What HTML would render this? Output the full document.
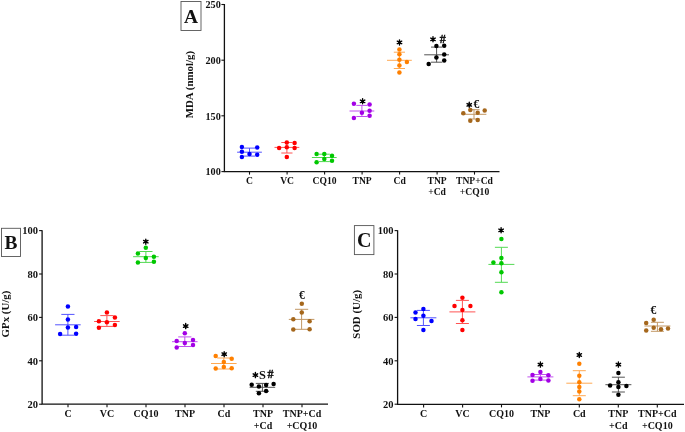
<!DOCTYPE html>
<html><head><meta charset="utf-8"><style>
html,body{margin:0;padding:0;background:#fff;}
body{width:685px;height:432px;overflow:hidden;}
svg{display:block;will-change:transform;}
text{font-family:"Liberation Serif", serif;font-weight:bold;fill:#111;}
.t{font-size:10px;}
.tA{font-size:9.6px;}
.tY{font-size:10.5px;}
.tYA{font-size:10.2px;}
.yl{font-size:10.9px;}
.L{font-size:20px;}
.LA{font-size:19.4px;}
.ast{font-size:12px;}
.sym{font-size:12px;stroke:#000;stroke-width:0.35;}
.eu{font-size:13.2px;}
.dol{font-size:12.4px;}
</style></head><body>
<svg width="685" height="432" viewBox="0 0 685 432">
<path d="M224.4 4V171.6H499.5" fill="none" stroke="#111" stroke-width="1.3"/>
<line x1="221.4" y1="4.5" x2="224.4" y2="4.5" stroke="#111" stroke-width="1.1"/>
<text x="220.8" y="8.3" text-anchor="end" class="tYA">250</text>
<line x1="221.4" y1="60.2" x2="224.4" y2="60.2" stroke="#111" stroke-width="1.1"/>
<text x="220.8" y="64" text-anchor="end" class="tYA">200</text>
<line x1="221.4" y1="115.8" x2="224.4" y2="115.8" stroke="#111" stroke-width="1.1"/>
<text x="220.8" y="119.6" text-anchor="end" class="tYA">150</text>
<line x1="221.4" y1="171.6" x2="224.4" y2="171.6" stroke="#111" stroke-width="1.1"/>
<text x="220.8" y="175.4" text-anchor="end" class="tYA">100</text>
<line x1="249.5" y1="171.6" x2="249.5" y2="174.6" stroke="#111" stroke-width="1.1"/>
<text x="249.5" y="184.2" text-anchor="middle" class="tA">C</text>
<line x1="287.1" y1="171.6" x2="287.1" y2="174.6" stroke="#111" stroke-width="1.1"/>
<text x="287.1" y="184.2" text-anchor="middle" class="tA">VC</text>
<line x1="324.6" y1="171.6" x2="324.6" y2="174.6" stroke="#111" stroke-width="1.1"/>
<text x="324.6" y="184.2" text-anchor="middle" class="tA">CQ10</text>
<line x1="362.1" y1="171.6" x2="362.1" y2="174.6" stroke="#111" stroke-width="1.1"/>
<text x="362.1" y="184.2" text-anchor="middle" class="tA">TNP</text>
<line x1="399.6" y1="171.6" x2="399.6" y2="174.6" stroke="#111" stroke-width="1.1"/>
<text x="399.6" y="184.2" text-anchor="middle" class="tA">Cd</text>
<line x1="437.1" y1="171.6" x2="437.1" y2="174.6" stroke="#111" stroke-width="1.1"/>
<text x="437.1" y="184.2" text-anchor="middle" class="tA">TNP</text>
<text x="437.1" y="195.4" text-anchor="middle" class="tA">+Cd</text>
<line x1="474.5" y1="171.6" x2="474.5" y2="174.6" stroke="#111" stroke-width="1.1"/>
<text x="474.5" y="184.2" text-anchor="middle" class="tA">TNP+Cd</text>
<text x="474.5" y="195.4" text-anchor="middle" class="tA">+CQ10</text>
<text transform="translate(193 84.6) rotate(-90)" text-anchor="middle" class="yl">MDA (nmol/g)</text>
<rect x="181" y="1.5" width="20" height="29" fill="#fff" stroke="#555" stroke-width="0.9"/>
<text x="191" y="22.6" text-anchor="middle" class="LA">A</text>
<g stroke="#0000FF" stroke-width="1.0" opacity="0.68" fill="none">
<line x1="237.1" y1="152.2" x2="261.9" y2="152.2"/>
<line x1="243.9" y1="148.1" x2="255.1" y2="148.1"/>
<line x1="243.9" y1="156.1" x2="255.1" y2="156.1"/>
<line x1="249.5" y1="148.1" x2="249.5" y2="156.1"/>
</g>
<g fill="#0000FF">
<circle cx="241.9" cy="147.1" r="2.25"/>
<circle cx="241.9" cy="151.7" r="2.25"/>
<circle cx="241.9" cy="157.1" r="2.25"/>
<circle cx="249.5" cy="154" r="2.25"/>
<circle cx="257.2" cy="147.6" r="2.25"/>
<circle cx="257.2" cy="154.8" r="2.25"/>
</g>
<g stroke="#FF0000" stroke-width="1.0" opacity="0.68" fill="none">
<line x1="274.5" y1="147.4" x2="299.3" y2="147.4"/>
<line x1="281.3" y1="142.5" x2="292.5" y2="142.5"/>
<line x1="281.3" y1="153" x2="292.5" y2="153"/>
<line x1="286.9" y1="142.5" x2="286.9" y2="153"/>
</g>
<g fill="#FF0000">
<circle cx="279.1" cy="147.9" r="2.25"/>
<circle cx="286.8" cy="142.6" r="2.25"/>
<circle cx="286.8" cy="147.2" r="2.25"/>
<circle cx="286.8" cy="157.1" r="2.25"/>
<circle cx="294.6" cy="143.1" r="2.25"/>
<circle cx="294.6" cy="147.9" r="2.25"/>
</g>
<g stroke="#00C800" stroke-width="1.0" opacity="0.68" fill="none">
<line x1="311.9" y1="157.5" x2="336.7" y2="157.5"/>
<line x1="318.7" y1="154.2" x2="329.9" y2="154.2"/>
<line x1="318.7" y1="161.6" x2="329.9" y2="161.6"/>
<line x1="324.3" y1="154.2" x2="324.3" y2="161.6"/>
</g>
<g fill="#00C800">
<circle cx="316.6" cy="154.1" r="2.25"/>
<circle cx="316.6" cy="162.3" r="2.25"/>
<circle cx="324.3" cy="153.9" r="2.25"/>
<circle cx="324.3" cy="159" r="2.25"/>
<circle cx="332" cy="155.8" r="2.25"/>
<circle cx="332" cy="160.8" r="2.25"/>
</g>
<g stroke="#A300E6" stroke-width="1.0" opacity="0.68" fill="none">
<line x1="349.5" y1="111" x2="374.3" y2="111"/>
<line x1="356.3" y1="105.4" x2="367.5" y2="105.4"/>
<line x1="356.3" y1="116.5" x2="367.5" y2="116.5"/>
<line x1="361.9" y1="105.4" x2="361.9" y2="116.5"/>
</g>
<g fill="#A300E6">
<circle cx="353.9" cy="103.7" r="2.25"/>
<circle cx="353.9" cy="117.9" r="2.25"/>
<circle cx="361.9" cy="112.7" r="2.25"/>
<circle cx="369.6" cy="104.6" r="2.25"/>
<circle cx="369.6" cy="110.8" r="2.25"/>
<circle cx="369.6" cy="115.7" r="2.25"/>
</g>
<path d="M362.6 103.85L362.6 98.75M360.39 102.58L364.81 100.02M360.39 100.02L364.81 102.58" stroke="#000" stroke-width="1.4" stroke-linecap="round" fill="none"/>
<circle cx="362.6" cy="101.3" r="1.3" fill="#000"/>
<g stroke="#FF8000" stroke-width="1.0" opacity="0.68" fill="none">
<line x1="387" y1="60.3" x2="411.8" y2="60.3"/>
<line x1="393.8" y1="52.2" x2="405" y2="52.2"/>
<line x1="393.8" y1="68.5" x2="405" y2="68.5"/>
<line x1="399.4" y1="52.2" x2="399.4" y2="68.5"/>
</g>
<g fill="#FF8000">
<circle cx="399.4" cy="49.6" r="2.25"/>
<circle cx="399.4" cy="54.3" r="2.25"/>
<circle cx="399.4" cy="59.8" r="2.25"/>
<circle cx="399.4" cy="65.5" r="2.25"/>
<circle cx="399.4" cy="72.5" r="2.25"/>
<circle cx="406.9" cy="61.9" r="2.25"/>
</g>
<path d="M399.5 44.95L399.5 39.85M397.29 43.67L401.71 41.12M397.29 41.12L401.71 43.67" stroke="#000" stroke-width="1.4" stroke-linecap="round" fill="none"/>
<circle cx="399.5" cy="42.4" r="1.3" fill="#000"/>
<g stroke="#000000" stroke-width="1.0" opacity="0.68" fill="none">
<line x1="424.2" y1="54.8" x2="449" y2="54.8"/>
<line x1="431" y1="47.1" x2="442.2" y2="47.1"/>
<line x1="431" y1="62.2" x2="442.2" y2="62.2"/>
<line x1="436.6" y1="47.1" x2="436.6" y2="62.2"/>
</g>
<g fill="#000000">
<circle cx="428.7" cy="64.1" r="2.25"/>
<circle cx="436.4" cy="45.9" r="2.25"/>
<circle cx="436.4" cy="57.6" r="2.25"/>
<circle cx="444.2" cy="45.7" r="2.25"/>
<circle cx="444.2" cy="54.5" r="2.25"/>
<circle cx="444.2" cy="60.6" r="2.25"/>
</g>
<path d="M433 41.85L433 36.75M430.79 40.57L435.21 38.02M430.79 38.02L435.21 40.57" stroke="#000" stroke-width="1.4" stroke-linecap="round" fill="none"/>
<circle cx="433" cy="39.3" r="1.3" fill="#000"/>
<text x="442.7" y="42.6" text-anchor="middle" class="sym">#</text>
<g stroke="#A5671C" stroke-width="1.0" opacity="0.68" fill="none">
<line x1="461.6" y1="114.3" x2="486.4" y2="114.3"/>
<line x1="468.4" y1="109.7" x2="479.6" y2="109.7"/>
<line x1="468.4" y1="119" x2="479.6" y2="119"/>
<line x1="474" y1="109.7" x2="474" y2="119"/>
</g>
<g fill="#A5671C">
<circle cx="463.3" cy="113.2" r="2.25"/>
<circle cx="470.3" cy="109.9" r="2.25"/>
<circle cx="470.3" cy="120.7" r="2.25"/>
<circle cx="477.7" cy="112.7" r="2.25"/>
<circle cx="477.7" cy="119.9" r="2.25"/>
<circle cx="484.7" cy="110.6" r="2.25"/>
</g>
<path d="M469.25 107.35L469.25 102.25M467.04 106.08L471.46 103.52M467.04 103.52L471.46 106.08" stroke="#000" stroke-width="1.4" stroke-linecap="round" fill="none"/>
<circle cx="469.25" cy="104.8" r="1.3" fill="#000"/>
<text transform="translate(476.3 107.7) scale(0.88 1)" text-anchor="middle" class="eu">€</text>
<path d="M42.1 230.2V404.2H328" fill="none" stroke="#111" stroke-width="1.3"/>
<line x1="39.1" y1="230.6" x2="42.1" y2="230.6" stroke="#111" stroke-width="1.1"/>
<text x="38" y="234.3" text-anchor="end" class="tY">100</text>
<line x1="39.1" y1="274" x2="42.1" y2="274" stroke="#111" stroke-width="1.1"/>
<text x="38" y="277.7" text-anchor="end" class="tY">80</text>
<line x1="39.1" y1="317.4" x2="42.1" y2="317.4" stroke="#111" stroke-width="1.1"/>
<text x="38" y="321.1" text-anchor="end" class="tY">60</text>
<line x1="39.1" y1="360.8" x2="42.1" y2="360.8" stroke="#111" stroke-width="1.1"/>
<text x="38" y="364.5" text-anchor="end" class="tY">40</text>
<line x1="39.1" y1="404.2" x2="42.1" y2="404.2" stroke="#111" stroke-width="1.1"/>
<text x="38" y="407.9" text-anchor="end" class="tY">20</text>
<line x1="68" y1="404.2" x2="68" y2="407.2" stroke="#111" stroke-width="1.1"/>
<text x="68" y="417.2" text-anchor="middle" class="t">C</text>
<line x1="107" y1="404.2" x2="107" y2="407.2" stroke="#111" stroke-width="1.1"/>
<text x="107" y="417.2" text-anchor="middle" class="t">VC</text>
<line x1="146" y1="404.2" x2="146" y2="407.2" stroke="#111" stroke-width="1.1"/>
<text x="146" y="417.2" text-anchor="middle" class="t">CQ10</text>
<line x1="185" y1="404.2" x2="185" y2="407.2" stroke="#111" stroke-width="1.1"/>
<text x="185" y="417.2" text-anchor="middle" class="t">TNP</text>
<line x1="224" y1="404.2" x2="224" y2="407.2" stroke="#111" stroke-width="1.1"/>
<text x="224" y="417.2" text-anchor="middle" class="t">Cd</text>
<line x1="263" y1="404.2" x2="263" y2="407.2" stroke="#111" stroke-width="1.1"/>
<text x="263" y="417.2" text-anchor="middle" class="t">TNP</text>
<text x="263" y="429" text-anchor="middle" class="t">+Cd</text>
<line x1="302" y1="404.2" x2="302" y2="407.2" stroke="#111" stroke-width="1.1"/>
<text x="302" y="417.2" text-anchor="middle" class="t">TNP+Cd</text>
<text x="302" y="429" text-anchor="middle" class="t">+CQ10</text>
<text transform="translate(8.8 314) rotate(-90)" text-anchor="middle" class="yl">GPx (U/g)</text>
<rect x="1.5" y="228.3" width="19" height="28.2" fill="#fff" stroke="#555" stroke-width="0.9"/>
<text x="11" y="249.3" text-anchor="middle" class="LA">B</text>
<g stroke="#0000FF" stroke-width="1.0" opacity="0.68" fill="none">
<line x1="55.1" y1="324.8" x2="80.7" y2="324.8"/>
<line x1="61.3" y1="314.4" x2="74.5" y2="314.4"/>
<line x1="61.3" y1="335.2" x2="74.5" y2="335.2"/>
<line x1="67.9" y1="314.4" x2="67.9" y2="335.2"/>
</g>
<g fill="#0000FF">
<circle cx="60.1" cy="334.1" r="2.25"/>
<circle cx="67.9" cy="306.5" r="2.25"/>
<circle cx="67.9" cy="319.4" r="2.25"/>
<circle cx="67.9" cy="327.6" r="2.25"/>
<circle cx="76.1" cy="327" r="2.25"/>
<circle cx="76.1" cy="333.8" r="2.25"/>
</g>
<g stroke="#FF0000" stroke-width="1.0" opacity="0.68" fill="none">
<line x1="94.1" y1="321.5" x2="119.7" y2="321.5"/>
<line x1="100.3" y1="315.6" x2="113.5" y2="315.6"/>
<line x1="100.3" y1="326.4" x2="113.5" y2="326.4"/>
<line x1="106.9" y1="315.6" x2="106.9" y2="326.4"/>
</g>
<g fill="#FF0000">
<circle cx="98.9" cy="321.3" r="2.25"/>
<circle cx="98.9" cy="327.8" r="2.25"/>
<circle cx="106.9" cy="312.5" r="2.25"/>
<circle cx="106.9" cy="322.2" r="2.25"/>
<circle cx="114.9" cy="317.6" r="2.25"/>
<circle cx="114.9" cy="325.1" r="2.25"/>
</g>
<g stroke="#00C800" stroke-width="1.0" opacity="0.68" fill="none">
<line x1="133.1" y1="256.7" x2="158.7" y2="256.7"/>
<line x1="139.3" y1="251.5" x2="152.5" y2="251.5"/>
<line x1="139.3" y1="262.4" x2="152.5" y2="262.4"/>
<line x1="145.9" y1="251.5" x2="145.9" y2="262.4"/>
</g>
<g fill="#00C800">
<circle cx="137.9" cy="253.5" r="2.25"/>
<circle cx="137.9" cy="262.4" r="2.25"/>
<circle cx="145.8" cy="247.8" r="2.25"/>
<circle cx="145.8" cy="258.1" r="2.25"/>
<circle cx="153.9" cy="256.7" r="2.25"/>
<circle cx="153.9" cy="261.8" r="2.25"/>
</g>
<path d="M145.8 244.25L145.8 239.15M143.59 242.97L148.01 240.42M143.59 240.42L148.01 242.97" stroke="#000" stroke-width="1.4" stroke-linecap="round" fill="none"/>
<circle cx="145.8" cy="241.7" r="1.3" fill="#000"/>
<g stroke="#A300E6" stroke-width="1.0" opacity="0.68" fill="none">
<line x1="172" y1="341.7" x2="197.6" y2="341.7"/>
<line x1="178.2" y1="336.9" x2="191.4" y2="336.9"/>
<line x1="178.2" y1="346.5" x2="191.4" y2="346.5"/>
<line x1="184.8" y1="336.9" x2="184.8" y2="346.5"/>
</g>
<g fill="#A300E6">
<circle cx="176.7" cy="341.1" r="2.25"/>
<circle cx="176.7" cy="347.4" r="2.25"/>
<circle cx="184.8" cy="333.3" r="2.25"/>
<circle cx="184.8" cy="343" r="2.25"/>
<circle cx="193" cy="340" r="2.25"/>
<circle cx="193" cy="345.1" r="2.25"/>
</g>
<path d="M185.7 328.65L185.7 323.55M183.49 327.38L187.91 324.83M183.49 324.83L187.91 327.38" stroke="#000" stroke-width="1.4" stroke-linecap="round" fill="none"/>
<circle cx="185.7" cy="326.1" r="1.3" fill="#000"/>
<g stroke="#FF8000" stroke-width="1.0" opacity="0.68" fill="none">
<line x1="211" y1="363.5" x2="236.6" y2="363.5"/>
<line x1="217.2" y1="358" x2="230.4" y2="358"/>
<line x1="217.2" y1="369" x2="230.4" y2="369"/>
<line x1="223.8" y1="358" x2="223.8" y2="369"/>
</g>
<g fill="#FF8000">
<circle cx="215.7" cy="356" r="2.25"/>
<circle cx="215.7" cy="368.5" r="2.25"/>
<circle cx="223.8" cy="362.1" r="2.25"/>
<circle cx="223.8" cy="366.9" r="2.25"/>
<circle cx="231.7" cy="358.7" r="2.25"/>
<circle cx="231.7" cy="368.2" r="2.25"/>
</g>
<path d="M224.2 356.75L224.2 351.65M221.99 355.47L226.41 352.93M221.99 352.93L226.41 355.47" stroke="#000" stroke-width="1.4" stroke-linecap="round" fill="none"/>
<circle cx="224.2" cy="354.2" r="1.3" fill="#000"/>
<g stroke="#000000" stroke-width="1.0" opacity="0.68" fill="none">
<line x1="249.6" y1="387.3" x2="275.2" y2="387.3"/>
<line x1="255.8" y1="383.4" x2="269" y2="383.4"/>
<line x1="255.8" y1="391.3" x2="269" y2="391.3"/>
<line x1="262.4" y1="383.4" x2="262.4" y2="391.3"/>
</g>
<g fill="#000000">
<circle cx="251.7" cy="384.8" r="2.25"/>
<circle cx="258.9" cy="386.6" r="2.25"/>
<circle cx="258.9" cy="393.2" r="2.25"/>
<circle cx="266.1" cy="385.1" r="2.25"/>
<circle cx="266.1" cy="390.9" r="2.25"/>
<circle cx="273.6" cy="384" r="2.25"/>
</g>
<path d="M255.4 377.65L255.4 372.55M253.19 376.38L257.61 373.83M253.19 373.83L257.61 376.38" stroke="#000" stroke-width="1.4" stroke-linecap="round" fill="none"/>
<circle cx="255.4" cy="375.1" r="1.3" fill="#000"/>
<text x="262.5" y="378.9" text-anchor="middle" class="dol">S</text>
<text x="270.5" y="377.8" text-anchor="middle" class="sym">#</text>
<g stroke="#A5671C" stroke-width="1.0" opacity="0.68" fill="none">
<line x1="288.8" y1="319.4" x2="314.4" y2="319.4"/>
<line x1="295" y1="309.3" x2="308.2" y2="309.3"/>
<line x1="295" y1="329.3" x2="308.2" y2="329.3"/>
<line x1="301.6" y1="309.3" x2="301.6" y2="329.3"/>
</g>
<g fill="#A5671C">
<circle cx="293.3" cy="319.2" r="2.25"/>
<circle cx="293.3" cy="329.6" r="2.25"/>
<circle cx="301.8" cy="303.8" r="2.25"/>
<circle cx="301.8" cy="312.6" r="2.25"/>
<circle cx="309.6" cy="321.2" r="2.25"/>
<circle cx="309.6" cy="329.3" r="2.25"/>
</g>
<text transform="translate(301.8 298.5) scale(0.88 1)" text-anchor="middle" class="eu">€</text>
<path d="M397.6 230.2V404.4H684" fill="none" stroke="#111" stroke-width="1.3"/>
<line x1="394.6" y1="230.6" x2="397.6" y2="230.6" stroke="#111" stroke-width="1.1"/>
<text x="393.5" y="234.3" text-anchor="end" class="tY">100</text>
<line x1="394.6" y1="274" x2="397.6" y2="274" stroke="#111" stroke-width="1.1"/>
<text x="393.5" y="277.7" text-anchor="end" class="tY">80</text>
<line x1="394.6" y1="317.4" x2="397.6" y2="317.4" stroke="#111" stroke-width="1.1"/>
<text x="393.5" y="321.1" text-anchor="end" class="tY">60</text>
<line x1="394.6" y1="360.8" x2="397.6" y2="360.8" stroke="#111" stroke-width="1.1"/>
<text x="393.5" y="364.5" text-anchor="end" class="tY">40</text>
<line x1="394.6" y1="404.2" x2="397.6" y2="404.2" stroke="#111" stroke-width="1.1"/>
<text x="393.5" y="407.9" text-anchor="end" class="tY">20</text>
<line x1="423.6" y1="404.4" x2="423.6" y2="407.4" stroke="#111" stroke-width="1.1"/>
<text x="423.6" y="417.2" text-anchor="middle" class="t">C</text>
<line x1="462.6" y1="404.4" x2="462.6" y2="407.4" stroke="#111" stroke-width="1.1"/>
<text x="462.6" y="417.2" text-anchor="middle" class="t">VC</text>
<line x1="501.5" y1="404.4" x2="501.5" y2="407.4" stroke="#111" stroke-width="1.1"/>
<text x="501.5" y="417.2" text-anchor="middle" class="t">CQ10</text>
<line x1="540.4" y1="404.4" x2="540.4" y2="407.4" stroke="#111" stroke-width="1.1"/>
<text x="540.4" y="417.2" text-anchor="middle" class="t">TNP</text>
<line x1="579.3" y1="404.4" x2="579.3" y2="407.4" stroke="#111" stroke-width="1.1"/>
<text x="579.3" y="417.2" text-anchor="middle" class="t">Cd</text>
<line x1="618.3" y1="404.4" x2="618.3" y2="407.4" stroke="#111" stroke-width="1.1"/>
<text x="618.3" y="417.2" text-anchor="middle" class="t">TNP</text>
<text x="618.3" y="429" text-anchor="middle" class="t">+Cd</text>
<line x1="657.3" y1="404.4" x2="657.3" y2="407.4" stroke="#111" stroke-width="1.1"/>
<text x="657.3" y="417.2" text-anchor="middle" class="t">TNP+Cd</text>
<text x="657.3" y="429" text-anchor="middle" class="t">+CQ10</text>
<text transform="translate(360.3 314.3) rotate(-90)" text-anchor="middle" class="yl">SOD (U/g)</text>
<rect x="354.4" y="225.6" width="19.5" height="29" fill="#fff" stroke="#555" stroke-width="0.9"/>
<text x="364.15" y="247.4" text-anchor="middle" class="L">C</text>
<g stroke="#0000FF" stroke-width="1.0" opacity="0.68" fill="none">
<line x1="410.4" y1="317.8" x2="436.4" y2="317.8"/>
<line x1="416.9" y1="310.4" x2="429.9" y2="310.4"/>
<line x1="416.9" y1="325.5" x2="429.9" y2="325.5"/>
<line x1="423.4" y1="310.4" x2="423.4" y2="325.5"/>
</g>
<g fill="#0000FF">
<circle cx="415.5" cy="312.6" r="2.25"/>
<circle cx="415.5" cy="319.1" r="2.25"/>
<circle cx="423.4" cy="308.9" r="2.25"/>
<circle cx="423.4" cy="315.8" r="2.25"/>
<circle cx="423.4" cy="330" r="2.25"/>
<circle cx="431.5" cy="321.1" r="2.25"/>
</g>
<g stroke="#FF0000" stroke-width="1.0" opacity="0.68" fill="none">
<line x1="449.4" y1="311.9" x2="475.4" y2="311.9"/>
<line x1="455.9" y1="300.4" x2="468.9" y2="300.4"/>
<line x1="455.9" y1="323.5" x2="468.9" y2="323.5"/>
<line x1="462.4" y1="300.4" x2="462.4" y2="323.5"/>
</g>
<g fill="#FF0000">
<circle cx="454.5" cy="306.1" r="2.25"/>
<circle cx="462.4" cy="297.8" r="2.25"/>
<circle cx="462.4" cy="310" r="2.25"/>
<circle cx="462.4" cy="320.2" r="2.25"/>
<circle cx="462.4" cy="330.1" r="2.25"/>
<circle cx="470.4" cy="306.1" r="2.25"/>
</g>
<g stroke="#00C800" stroke-width="1.0" opacity="0.68" fill="none">
<line x1="488.4" y1="264.4" x2="514.4" y2="264.4"/>
<line x1="494.9" y1="247.3" x2="507.9" y2="247.3"/>
<line x1="494.9" y1="282.3" x2="507.9" y2="282.3"/>
<line x1="501.4" y1="247.3" x2="501.4" y2="282.3"/>
</g>
<g fill="#00C800">
<circle cx="493.4" cy="262.4" r="2.25"/>
<circle cx="501.4" cy="238.9" r="2.25"/>
<circle cx="501.4" cy="258" r="2.25"/>
<circle cx="501.4" cy="263.2" r="2.25"/>
<circle cx="501.4" cy="272.3" r="2.25"/>
<circle cx="501.4" cy="292.3" r="2.25"/>
</g>
<path d="M501.1 232.85L501.1 227.75M498.89 231.58L503.31 229.03M498.89 229.03L503.31 231.58" stroke="#000" stroke-width="1.4" stroke-linecap="round" fill="none"/>
<circle cx="501.1" cy="230.3" r="1.3" fill="#000"/>
<g stroke="#A300E6" stroke-width="1.0" opacity="0.68" fill="none">
<line x1="527.4" y1="376.9" x2="553.4" y2="376.9"/>
<line x1="533.9" y1="374.5" x2="546.9" y2="374.5"/>
<line x1="533.9" y1="380.1" x2="546.9" y2="380.1"/>
<line x1="540.4" y1="374.5" x2="540.4" y2="380.1"/>
</g>
<g fill="#A300E6">
<circle cx="532.5" cy="374.9" r="2.25"/>
<circle cx="532.5" cy="380.8" r="2.25"/>
<circle cx="540.4" cy="371.9" r="2.25"/>
<circle cx="540.4" cy="378.9" r="2.25"/>
<circle cx="548.4" cy="375.3" r="2.25"/>
<circle cx="548.4" cy="380.5" r="2.25"/>
</g>
<path d="M540.4 367.15L540.4 362.05M538.19 365.88L542.61 363.33M538.19 363.33L542.61 365.88" stroke="#000" stroke-width="1.4" stroke-linecap="round" fill="none"/>
<circle cx="540.4" cy="364.6" r="1.3" fill="#000"/>
<g stroke="#FF8000" stroke-width="1.0" opacity="0.68" fill="none">
<line x1="566.3" y1="383.2" x2="592.3" y2="383.2"/>
<line x1="572.8" y1="370.7" x2="585.8" y2="370.7"/>
<line x1="572.8" y1="395.7" x2="585.8" y2="395.7"/>
<line x1="579.3" y1="370.7" x2="579.3" y2="395.7"/>
</g>
<g fill="#FF8000">
<circle cx="579.3" cy="363.75" r="2.25"/>
<circle cx="579.3" cy="375.8" r="2.25"/>
<circle cx="579.3" cy="382.2" r="2.25"/>
<circle cx="579.3" cy="386.9" r="2.25"/>
<circle cx="579.3" cy="391.5" r="2.25"/>
<circle cx="579.3" cy="399.2" r="2.25"/>
</g>
<path d="M579.3 357.55L579.3 352.45M577.09 356.27L581.51 353.73M577.09 353.73L581.51 356.27" stroke="#000" stroke-width="1.4" stroke-linecap="round" fill="none"/>
<circle cx="579.3" cy="355" r="1.3" fill="#000"/>
<g stroke="#000000" stroke-width="1.0" opacity="0.68" fill="none">
<line x1="605.4" y1="384.7" x2="631.4" y2="384.7"/>
<line x1="611.9" y1="377.2" x2="624.9" y2="377.2"/>
<line x1="611.9" y1="392" x2="624.9" y2="392"/>
<line x1="618.4" y1="377.2" x2="618.4" y2="392"/>
</g>
<g fill="#000000">
<circle cx="610.1" cy="385.5" r="2.25"/>
<circle cx="618.4" cy="372.9" r="2.25"/>
<circle cx="618.4" cy="382.3" r="2.25"/>
<circle cx="618.4" cy="387.1" r="2.25"/>
<circle cx="618.4" cy="394.8" r="2.25"/>
<circle cx="626.4" cy="386" r="2.25"/>
</g>
<path d="M618.4 367.15L618.4 362.05M616.19 365.88L620.61 363.33M616.19 363.33L620.61 365.88" stroke="#000" stroke-width="1.4" stroke-linecap="round" fill="none"/>
<circle cx="618.4" cy="364.6" r="1.3" fill="#000"/>
<g stroke="#A5671C" stroke-width="1.0" opacity="0.68" fill="none">
<line x1="644.4" y1="326" x2="670.4" y2="326"/>
<line x1="650.9" y1="322.3" x2="663.9" y2="322.3"/>
<line x1="650.9" y1="331.3" x2="663.9" y2="331.3"/>
<line x1="657.4" y1="322.3" x2="657.4" y2="331.3"/>
</g>
<g fill="#A5671C">
<circle cx="646.2" cy="322.9" r="2.25"/>
<circle cx="646.2" cy="330.6" r="2.25"/>
<circle cx="653.7" cy="319.8" r="2.25"/>
<circle cx="653.7" cy="327.8" r="2.25"/>
<circle cx="661" cy="329.2" r="2.25"/>
<circle cx="668" cy="328.5" r="2.25"/>
</g>
<text transform="translate(653.5 313.9) scale(0.88 1)" text-anchor="middle" class="eu">€</text>
</svg>
</body></html>
